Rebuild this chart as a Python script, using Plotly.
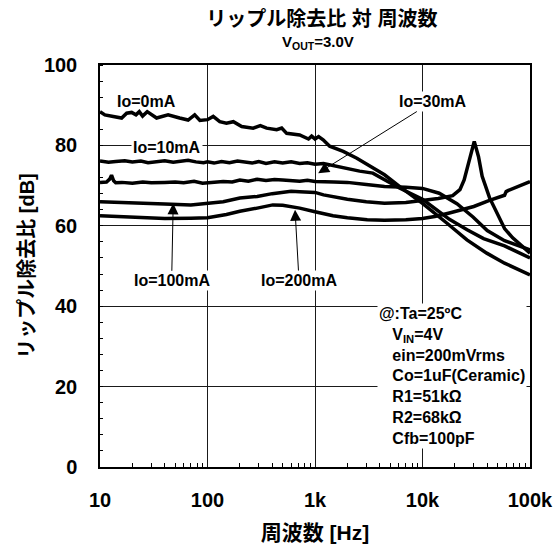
import numpy as np
import plotly.graph_objects as go

# Ripple rejection [dB] versus frequency [Hz] for each load current
freq_0mA = [10, 11.1, 13.3, 15.9, 17.7, 19.7, 21.6, 23.2, 24.9, 27.5, 33.6, 43, 55, 66, 76,
            85, 100, 113, 130, 150, 174, 208, 266, 310, 355, 440, 490, 545, 720, 870, 930,
            1000, 1080, 1190, 1370, 1830, 2450, 3450, 4430, 6100, 10000, 16800, 25900,
            39600, 58000, 100000]
rr_0mA = [88.4, 87.6, 87.2, 86.8, 88.0, 88.2, 87.6, 88.4, 87.3, 88.4, 86.8, 87.6, 86.8, 86.3, 87.6,
          86.2, 86.4, 87.2, 85.9, 85.5, 85.9, 84.7, 84.3, 84.9, 84.3, 83.9, 84.3, 83.0, 82.6, 81.6, 82.3,
          81.6, 82.2, 81.4, 79.8, 78.5, 76.8, 74.3, 72.7, 69.8, 65.6, 60.7, 56.5,
          53.2, 50.7, 47.8]

freq_10mA = [10, 12, 14, 17, 20, 24, 28, 33, 40, 48, 56, 66, 78, 92, 100, 115, 135, 160, 190,
             220, 260, 300, 350, 420, 500, 600, 720, 850, 1000, 1200, 1450, 1700, 2100, 2600,
             3450, 4430, 6100, 10000, 17800, 26000, 37000, 58000, 100000]
rr_10mA = [76.1, 75.8, 76.0, 76.2, 75.9, 76.1, 75.7, 76.0, 76.2, 75.8, 76.0, 76.3, 75.9, 75.7, 75.9,
           75.6, 76.0, 75.7, 76.1, 75.8, 75.6, 76.0, 75.5, 75.9, 75.6, 75.9, 75.5, 75.7, 75.3, 75.5,
           75.0, 74.5, 74.0, 73.6, 73.1, 71.4, 69.4, 66.6, 61.6, 59.0, 56.8, 55.0, 52.0]

freq_30mA = [10, 11.5, 12.3, 12.8, 13.4, 14, 16, 20, 25, 30, 40, 50, 60, 75, 90, 110, 140, 170,
             200, 240, 290, 350, 420, 500, 600, 720, 850, 1000, 1500, 2000, 3000, 4430, 7000,
             10000, 14300, 20900, 29500, 40000, 58000, 100000]
rr_30mA = [70.8, 70.9, 71.6, 72.6, 71.2, 70.7, 70.8, 70.6, 70.9, 70.7, 70.8, 70.9, 70.7, 71.1, 70.6,
           70.8, 71.0, 70.9, 71.4, 71.1, 71.6, 71.3, 71.5, 71.4, 71.2, 71.1, 71.3, 71.0, 70.9, 70.8,
           70.3, 69.8, 69.6, 69.3, 68.1, 65.5, 62.2, 58.8, 56.3, 54.0]

freq_100mA = [10, 20, 40, 70, 100, 140, 200, 290, 400, 600, 720, 1000, 1200, 2000, 3000, 4430,
              7000, 10000, 14000, 19100, 22300, 24400, 27600, 30300, 33200, 35900, 42000, 52000,
              58000, 69000, 100000]
rr_100mA = [66.0, 65.8, 65.4, 65.2, 65.5, 66.0, 66.9, 67.3, 68.0, 68.6, 68.5, 68.3, 67.7, 66.6, 66.0, 65.6,
            65.8, 66.3, 66.8, 67.5, 69.0, 71.4, 77.2, 81.0, 77.2, 72.3, 67.0, 61.8,
            59.3, 57.0, 53.2]

freq_200mA = [10, 15, 25, 40, 70, 100, 150, 200, 290, 405, 500, 720, 1000, 1470, 2000, 3060, 4430,
              7000, 10000, 13000, 17800, 24000, 30000, 42000, 52000, 58000, 60000, 63000, 100000]
rr_200mA = [62.5, 62.3, 62.0, 61.8, 61.9, 62.0, 62.8, 63.6, 64.4, 65.2, 65.1, 64.4, 63.5, 62.5, 62.0, 61.5, 61.4,
            61.5, 61.8, 62.3, 63.2, 64.2, 64.8, 66.3, 67.2, 67.6, 68.5, 68.8, 71.0]

series_freq = [freq_0mA, freq_10mA, freq_30mA, freq_100mA, freq_200mA]
series_rr = [rr_0mA, rr_10mA, rr_30mA, rr_100mA, rr_200mA]
series_names = ["Io=0mA", "Io=10mA", "Io=30mA", "Io=100mA", "Io=200mA"]

x_tick_vals = [10, 100, 1000, 10000, 100000]
x_tick_text = ["10", "100", "1k", "10k", "100k"]
y_tick_vals = [0, 20, 40, 60, 80, 100]
x_minor_vals = [m * 10 ** d for d in range(1, 5) for m in range(2, 10)]

FONT = "Liberation Sans, Arial, Noto Sans CJK JP, sans-serif"
BOLD = dict(family=FONT, color="black", weight="bold")

fig = go.Figure()
for f, r, name in zip(series_freq, series_rr, series_names):
    fig.add_trace(go.Scatter(x=f, y=r, mode="lines", name=name,
                             line=dict(color="black", width=3.5)))

fig.update_layout(
    width=553, height=545,
    margin=dict(l=100, r=23, t=65, b=77.5, pad=0),
    paper_bgcolor="white", plot_bgcolor="white",
    showlegend=False,
    font=dict(family=FONT, color="black", size=16),
    title=dict(
        text="リップル除去比 対 周波数",
        font=dict(size=20, **BOLD),
        xref="paper", x=0.516, xanchor="center",
        yref="container", y=1 - 19 / 545, yanchor="middle",
    ),
)

fig.update_xaxes(
    type="log", range=[1, 5], automargin=False,
    tickvals=x_tick_vals, ticktext=x_tick_text,
    tickfont=dict(size=20, **BOLD), ticks="", ticklabelstandoff=14,
    ticklabeloverflow="allow",
    title=dict(text="周波数 [Hz]", font=dict(size=21, **BOLD), standoff=16),
    showgrid=True, gridcolor="#1a1a1a", gridwidth=1,
    showline=True, linecolor="black", linewidth=1.5, mirror=True, zeroline=False,
    minor=dict(tickvals=x_minor_vals, ticks="inside", ticklen=4, tickwidth=1,
               tickcolor="black", showgrid=False),
)
fig.update_yaxes(
    range=[0, 100], automargin=False, tickvals=y_tick_vals,
    tickfont=dict(size=20, **BOLD), ticks="", ticklabelstandoff=17,
    title=dict(text="リップル除去比 [dB]", font=dict(size=20, **BOLD), standoff=4),
    showgrid=True, gridcolor="#1a1a1a", gridwidth=1,
    showline=True, linecolor="black", linewidth=1.5, mirror=True, zeroline=False,
    minor=dict(dtick=4, ticks="inside", ticklen=3, tickwidth=1,
               tickcolor="black", showgrid=False),
)

ARROW = dict(showarrow=True, arrowhead=2, arrowsize=2.2, arrowwidth=1,
             arrowcolor="black", standoff=0, startstandoff=0)

annotations = [
    # subtitle under the main title
    dict(text="V<sub>OUT</sub>=3.0V", x=0.506, y=1.055, xref="paper", yref="paper",
         showarrow=False, font=dict(size=15, **BOLD), xanchor="center", yanchor="middle"),
    # curve labels
    dict(text="Io=0mA", x=np.log10(13.8), y=90.8, xref="x", yref="y", showarrow=False,
         font=dict(size=16, **BOLD), xanchor="left", yanchor="middle"),
    dict(text="Io=10mA", x=np.log10(41.7), y=79.5, xref="x", yref="y", showarrow=False,
         font=dict(size=16, **BOLD), xanchor="center", yanchor="middle", bgcolor="white"),
    # labels with pointer arrows (x, y = arrow tip; ax, ay = label offset in px)
    dict(text="Io=30mA", x=np.log10(1070), y=73.1, xref="x", yref="y",
         ax=114.7, ay=-71.6, font=dict(size=16, **BOLD), bgcolor="white", **ARROW),
    dict(text="Io=100mA", x=np.log10(48), y=65.6, xref="x", yref="y",
         ax=-1.6, ay=77.5, font=dict(size=16, **BOLD), bgcolor="white", **ARROW),
    dict(text="Io=200mA", x=np.log10(652), y=64.0, xref="x", yref="y",
         ax=4.0, ay=70.8, font=dict(size=16, **BOLD), bgcolor="white", **ARROW),
    # measurement conditions
    dict(text="@:Ta=25ºC<br>" + "<br>".join("\u00a0\u00a0\u00a0" + s for s in [
            "V<sub>IN</sub>=4V", "ein=200mVrms", "Co=1uF(Ceramic)",
            "R1=51kΩ", "R2=68kΩ", "Cfb=100pF"]),
         x=np.log10(3773), y=22.73, xref="x", yref="y", showarrow=False, align="left",
         font=dict(size=16, **BOLD), xanchor="left", yanchor="middle",
         bgcolor="white", borderpad=1),
]
fig.update_layout(annotations=annotations)

fig.write_html("out.html")
